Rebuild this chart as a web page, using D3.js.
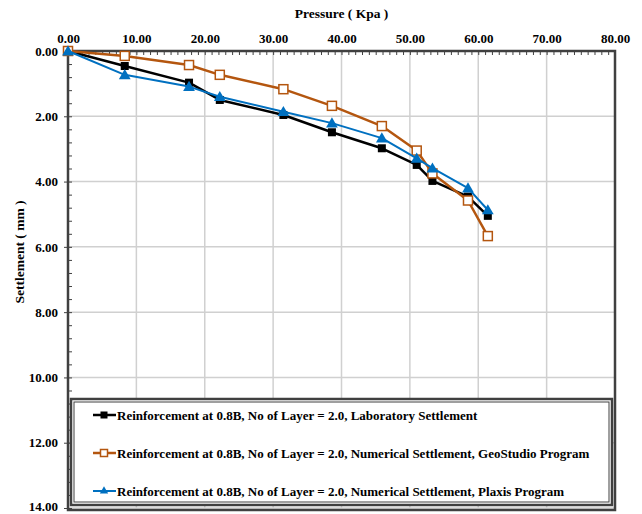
<!DOCTYPE html>
<html><head><meta charset="utf-8">
<script src="https://cdn.jsdelivr.net/npm/d3@7"></script>
<style>
html,body{margin:0;padding:0;background:#fff;}
svg text{font-family:"Liberation Serif","Times New Roman",serif;font-weight:bold;}
</style></head>
<body><svg id="c" width="642" height="514"></svg>
<script>
const pressure = [0, 8.3, 17.7, 22.2, 31.5, 38.6, 45.9, 51.0, 53.3, 58.5, 61.4];
const labSettlement = [0, 0.46, 0.97, 1.50, 1.96, 2.49, 2.98, 3.49, 3.98, 4.46, 5.05];
const geoSettlement = [0, 0.15, 0.43, 0.73, 1.17, 1.68, 2.30, 3.05, 3.75, 4.58, 5.67];
const plaxisSettlement = [0, 0.73, 1.09, 1.40, 1.86, 2.21, 2.67, 3.29, 3.59, 4.20, 4.87];
const seriesNames = [
  "Reinforcement at 0.8B, No of Layer = 2.0, Laboratory Settlement",
  "Reinforcement at 0.8B, No of Layer = 2.0, Numerical Settlement, GeoStudio Program",
  "Reinforcement at 0.8B, No of Layer = 2.0, Numerical Settlement, Plaxis Program"
];
const xTicks = [0,10,20,30,40,50,60,70,80];
const yTicks = [0,2,4,6,8,10,12,14];
const xTitle = "Pressure ( Kpa )";
const yTitle = "Settlement ( mm )";

const svg = d3.select("#c");
const L=68, R=615, T=51, B=508;
const x = d3.scaleLinear().domain([0,80]).range([L,R]);
const y = d3.scaleLinear().domain([0,14]).range([T,B]);

// gridlines
svg.append("g").selectAll("line").data(xTicks.slice(1)).join("line")
  .attr("x1",d=>x(d)).attr("x2",d=>x(d)).attr("y1",T).attr("y2",B)
  .attr("stroke","#d0d0d0").attr("stroke-width",1.5);
svg.append("g").selectAll("line").data(yTicks.slice(1)).join("line")
  .attr("x1",L).attr("x2",R).attr("y1",d=>y(d)).attr("y2",d=>y(d))
  .attr("stroke","#d0d0d0").attr("stroke-width",1.5);

// top axis
const xAxis = svg.append("g").attr("transform",`translate(0,${T})`)
  .call(d3.axisTop(x).tickValues(xTicks).tickFormat(d3.format(".2f")).tickSize(0).tickPadding(8));
xAxis.select(".domain").remove();
xAxis.selectAll("text").attr("font-size","13px").attr("fill","#000").style("font-family","Liberation Serif").style("font-weight","bold");
svg.append("g").attr("transform",`translate(0,${T})`)
  .call(d3.axisBottom(x).ticks(80).tickFormat("").tickSize(4))
  .call(g=>g.select(".domain").remove())
  .selectAll("line").attr("stroke","#404040").attr("stroke-width",1);

// left axis
const yAxis = svg.append("g").attr("transform",`translate(${L},0)`)
  .call(d3.axisLeft(y).tickValues(yTicks).tickFormat(d3.format(".2f")).tickSize(4).tickPadding(6));
yAxis.select(".domain").remove();
yAxis.selectAll("line").attr("stroke","#404040");
yAxis.selectAll("text").attr("font-size","13px").attr("fill","#000").style("font-family","Liberation Serif").style("font-weight","bold");
yAxis.selectAll(".tick").filter(d=>d===14).select("text").attr("dy","0.2em");
svg.append("g").attr("transform",`translate(${L},0)`)
  .call(d3.axisRight(y).tickValues(d3.range(0,14.01,0.4)).tickFormat("").tickSize(4))
  .call(g=>g.select(".domain").remove())
  .selectAll("line").attr("stroke","#404040").attr("stroke-width",1);

// frame
svg.append("rect").attr("x",L).attr("y",T).attr("width",R-L).attr("height",B-T+2)
  .attr("fill","none").attr("stroke","#404040").attr("stroke-width",2.5);

// titles
svg.append("text").attr("x",(L+R)/2).attr("y",18).attr("text-anchor","middle")
  .attr("font-size","13.5px").text(xTitle);
svg.append("text").attr("transform",`translate(24,${252}) rotate(-90)`).attr("text-anchor","middle")
  .attr("font-size","13.5px").text(yTitle);

// series
const colors = ["#000000","#B4560F","#0070C0"];
const widths = [2.5,2.5,2];
const allData = [labSettlement, geoSettlement, plaxisSettlement];
const line = d3.line().x(d=>x(d[0])).y(d=>y(d[1]));
function marker(g, i, cx, cy){
  if(i===0){
    g.append("rect").attr("x",cx-4).attr("y",cy-4).attr("width",8).attr("height",8).attr("fill","#000");
  } else if(i===1){
    g.append("rect").attr("x",cx-4.5).attr("y",cy-4.5).attr("width",9).attr("height",9)
      .attr("fill","#fff").attr("stroke",colors[1]).attr("stroke-width",1.5);
  } else {
    g.append("path").attr("d",d3.symbol(d3.symbolTriangle,60)()).attr("transform",`translate(${cx},${cy+1})`).attr("fill",colors[2]);
  }
}
allData.forEach((vals,i)=>{
  const pts = pressure.map((p,k)=>[p,vals[k]]);
  const g = svg.append("g");
  g.append("path").datum(pts).attr("d",line).attr("fill","none")
    .attr("stroke",colors[i]).attr("stroke-width",widths[i]).attr("stroke-linejoin","round");
  pts.forEach(p=>marker(g,i,x(p[0]),y(p[1])));
});

// legend
const lg = svg.append("g");
lg.append("rect").attr("x",71).attr("y",399).attr("width",541).attr("height",106)
  .attr("fill","#fff").attr("stroke","#404040").attr("stroke-width",2.5);
lg.append("rect").attr("x",74).attr("y",402).attr("width",535).attr("height",100)
  .attr("fill","none").attr("stroke","#404040").attr("stroke-width",1);
const ly = [415, 453, 491];
seriesNames.forEach((name,i)=>{
  lg.append("line").attr("x1",93).attr("x2",116).attr("y1",ly[i]).attr("y2",ly[i])
    .attr("stroke",colors[i]).attr("stroke-width",widths[i]);
  const m = lg.append("g");
  if(i===0) m.append("rect").attr("x",100.5).attr("y",ly[i]-3.5).attr("width",7).attr("height",7).attr("fill","#000");
  else if(i===1) m.append("rect").attr("x",100.5).attr("y",ly[i]-3.5).attr("width",7).attr("height",7).attr("fill","#fff").attr("stroke",colors[1]).attr("stroke-width",1.5);
  else m.append("path").attr("d",d3.symbol(d3.symbolTriangle,30)()).attr("transform",`translate(104,${ly[i]})`).attr("fill",colors[2]);
  lg.append("text").attr("x",117).attr("y",ly[i]+4.5).attr("font-size","13px").text(name);
});
</script></body></html>
